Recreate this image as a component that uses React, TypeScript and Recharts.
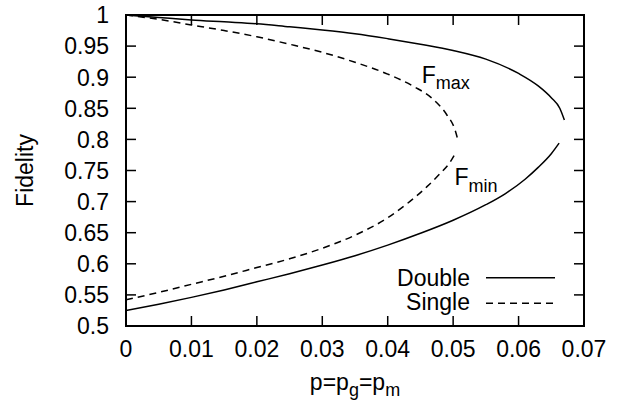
import React from 'react';
import { LineChart, Line, XAxis, YAxis, ReferenceArea, ReferenceDot, ReferenceLine, Legend } from 'recharts';

// fidelity bounds vs error probability p
const doubleMaxP = [0, 0.005, 0.01, 0.015, 0.02, 0.025, 0.03, 0.035, 0.04, 0.045, 0.05, 0.055, 0.06, 0.063, 0.065, 0.0663, 0.067];
const doubleMaxF = [1.0, 0.996, 0.992, 0.989, 0.986, 0.981, 0.976, 0.97, 0.962, 0.953, 0.943, 0.929, 0.906, 0.886, 0.867, 0.85, 0.831];
const doubleMinP = [0, 0.005, 0.01, 0.015, 0.02, 0.025, 0.03, 0.035, 0.04, 0.045, 0.05, 0.055, 0.058, 0.061, 0.063, 0.065, 0.0662];
const doubleMinF = [0.525, 0.535, 0.546, 0.558, 0.571, 0.584, 0.598, 0.613, 0.63, 0.649, 0.67, 0.695, 0.713, 0.736, 0.755, 0.777, 0.794];
const singleMaxP = [0, 0.005, 0.01, 0.015, 0.02, 0.025, 0.03, 0.035, 0.04, 0.044, 0.047, 0.049, 0.0503, 0.0508];
const singleMaxF = [1.0, 0.993, 0.984, 0.975, 0.965, 0.953, 0.94, 0.924, 0.905, 0.885, 0.864, 0.84, 0.815, 0.796];
const singleMinP = [0, 0.005, 0.01, 0.015, 0.02, 0.025, 0.03, 0.035, 0.04, 0.043, 0.046, 0.048, 0.0495, 0.0503];
const singleMinF = [0.542, 0.554, 0.567, 0.58, 0.594, 0.608, 0.625, 0.646, 0.674, 0.697, 0.724, 0.745, 0.763, 0.777];

const xTicks = [0, 0.01, 0.02, 0.03, 0.04, 0.05, 0.06, 0.07];
const yTicks = [0.5, 0.55, 0.6, 0.65, 0.7, 0.75, 0.8, 0.85, 0.9, 0.95, 1];

const seriesNames = ['Double', 'Single'];
const dashes = ['', '7 5'];

const annoText = ['max', 'min'];
const annoP = [0.0452, 0.0502];
const annoF = [0.891, 0.726];

const zip = (ps: number[], fs: number[]) => ps.map((p, i) => ({ p, f: fs[i] }));

const FONT = '"Liberation Sans", Arial, Helvetica, sans-serif';
const FS = 23;
const W = 628;
const H = 405;
const TOP = 15;
const RIGHT = 44;
const X_DOM = [0, 0.07];
const Y_DOM = [0.5, 1];
// 10px tick mark expressed in axis units (plot area is 458 x 311 px)
const TICK_DX = ((X_DOM[1] - X_DOM[0]) / 458) * 10;
const TICK_DY = ((Y_DOM[1] - Y_DOM[0]) / 311) * 10;

const BottomTick = (props: any) => {
  const { x, y, payload } = props;
  return (
    <text x={x} y={y + 30.5} textAnchor="middle" fontFamily={FONT} fontSize={FS} fill="#000">
      {String(payload.value)}
    </text>
  );
};

const LeftTick = (props: any) => {
  const { x, y, payload } = props;
  return (
    <text x={x - 17} y={y + 8.3} textAnchor="end" fontFamily={FONT} fontSize={FS} fill="#000">
      {String(payload.value)}
    </text>
  );
};

const LegendBox = () => (
  <svg width={250} height={60} style={{ display: 'block' }}>
    {seriesNames.map((name, i) => (
      <g key={name}>
        <text x={90} y={26 + i * 24} textAnchor="end" fontFamily={FONT} fontSize={FS} fill="#000">
          {name}
        </text>
        <line
          x1={106}
          x2={175}
          y1={17.7 + i * 25.6}
          y2={17.7 + i * 25.6}
          stroke="#000"
          strokeWidth={1.5}
          strokeDasharray={dashes[i] || undefined}
        />
      </g>
    ))}
  </svg>
);

const Anno = (sub: string) => (props: any) => {
  const { viewBox } = props;
  const x = viewBox.x + (viewBox.width || 0) / 2;
  const y = viewBox.y + (viewBox.height || 0) / 2;
  return (
    <text x={x} y={y} fontFamily={FONT} fontSize={FS} fill="#000">
      F
      <tspan dy={6.5} fontSize={18}>
        {sub}
      </tspan>
    </text>
  );
};

export default function App() {
  const lines = [
    { data: zip(doubleMaxP, doubleMaxF), dash: dashes[0] },
    { data: zip(doubleMinP, doubleMinF), dash: dashes[0] },
    { data: zip(singleMaxP, singleMaxF), dash: dashes[1] },
    { data: zip(singleMinP, singleMinF), dash: dashes[1] },
  ];

  // inward tick marks on all four sides (gnuplot style mirror ticks)
  const tickSegs: { x: number; y: number }[][] = [];
  xTicks.slice(1, -1).forEach((t) => {
    tickSegs.push([{ x: t, y: Y_DOM[0] }, { x: t, y: Y_DOM[0] + TICK_DY }]);
    tickSegs.push([{ x: t, y: Y_DOM[1] }, { x: t, y: Y_DOM[1] - TICK_DY }]);
  });
  yTicks.slice(1, -1).forEach((t) => {
    tickSegs.push([{ x: X_DOM[0], y: t }, { x: X_DOM[0] + TICK_DX, y: t }]);
    tickSegs.push([{ x: X_DOM[1], y: t }, { x: X_DOM[1] - TICK_DX, y: t }]);
  });

  return (
    <div style={{ position: 'absolute', left: 0, top: 0, width: W, height: H, background: '#fff' }}>
      <LineChart width={W} height={H} margin={{ top: TOP, right: RIGHT, bottom: 0, left: 0 }}>
        <XAxis
          xAxisId="b"
          type="number"
          dataKey="p"
          domain={X_DOM}
          ticks={xTicks}
          allowDataOverflow
          height={79}
          axisLine={false}
          tickLine={false}
          tickSize={0}
          tickMargin={0}
          tick={<BottomTick />}
          interval={0}
          label={{
            content: (props: any) => {
              const vb = props.viewBox;
              const cx = vb.x + vb.width / 2;
              return (
                <text x={cx} y={vb.y + 63.5} textAnchor="middle" fontFamily={FONT} fontSize={FS} fill="#000">
                  p=p
                  <tspan dy={6} fontSize={18}>g</tspan>
                  <tspan dy={-6}>=p</tspan>
                  <tspan dy={6} fontSize={18}>m</tspan>
                </text>
              );
            },
          }}
        />
        <YAxis
          yAxisId="l"
          type="number"
          domain={Y_DOM}
          ticks={yTicks}
          allowDataOverflow
          width={126}
          axisLine={false}
          tickLine={false}
          tickSize={0}
          tickMargin={0}
          tick={<LeftTick />}
          interval={0}
          label={{
            content: (props: any) => {
              const vb = props.viewBox;
              const cy = vb.y + vb.height / 2;
              return (
                <text
                  x={33}
                  y={cy}
                  transform={`rotate(-90 33 ${cy})`}
                  textAnchor="middle"
                  fontFamily={FONT}
                  fontSize={FS}
                  fill="#000"
                >
                  Fidelity
                </text>
              );
            },
          }}
        />
        <ReferenceArea
          xAxisId="b"
          yAxisId="l"
          x1={X_DOM[0]}
          x2={X_DOM[1]}
          y1={Y_DOM[0]}
          y2={Y_DOM[1]}
          fill="transparent"
          fillOpacity={0}
          stroke="#000"
          strokeWidth={2}
        />
        {tickSegs.map((seg, i) => (
          <ReferenceLine
            key={`tk${i}`}
            xAxisId="b"
            yAxisId="l"
            segment={seg}
            stroke="#000"
            strokeWidth={1.5}
            ifOverflow="visible"
          />
        ))}
        {lines.map((l, i) => (
          <Line
            key={i}
            xAxisId="b"
            yAxisId="l"
            data={l.data}
            dataKey="f"
            type="monotone"
            stroke="#000"
            strokeWidth={1.5}
            strokeDasharray={l.dash || undefined}
            dot={false}
            activeDot={false}
            isAnimationActive={false}
            legendType="none"
          />
        ))}
        {annoText.map((t, i) => (
          <ReferenceDot
            key={t}
            xAxisId="b"
            yAxisId="l"
            x={annoP[i]}
            y={annoF[i]}
            r={0}
            fill="none"
            stroke="none"
            label={{ content: Anno(t) }}
          />
        ))}
        <Legend
          layout="vertical"
          align="center"
          verticalAlign="middle"
          content={() => <LegendBox />}
          wrapperStyle={{ position: 'absolute', left: 380, top: 260, width: 250, height: 60 }}
        />
      </LineChart>
    </div>
  );
}
